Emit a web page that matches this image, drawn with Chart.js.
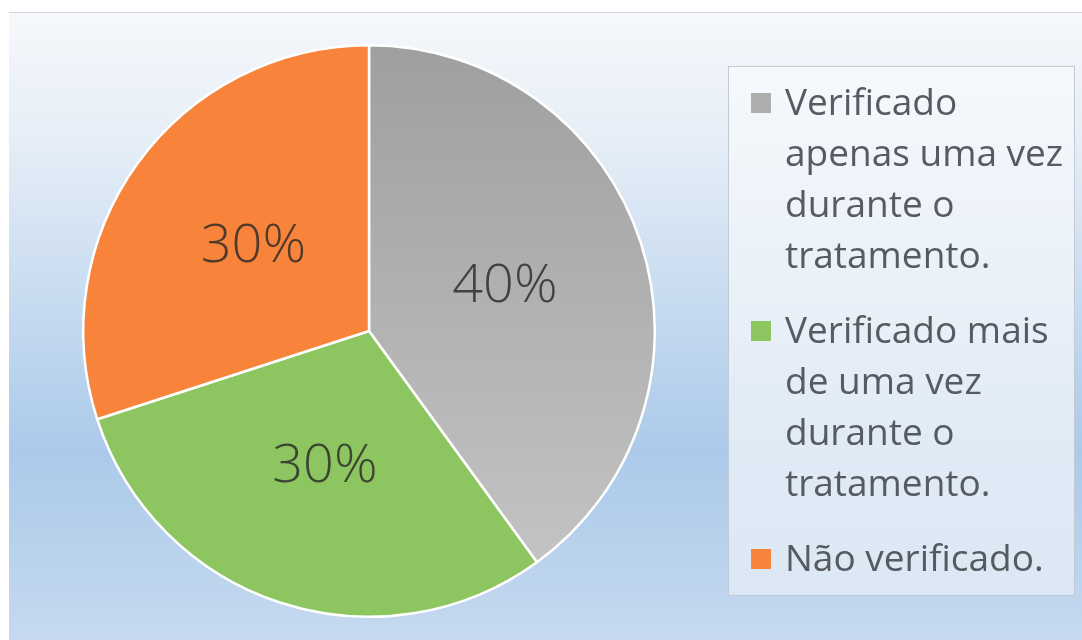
<!DOCTYPE html>
<html>
<head>
<meta charset="utf-8">
<script src="https://cdn.jsdelivr.net/npm/chart.js@4.4.1/dist/chart.umd.min.js"></script>
<style>
html,body{margin:0;padding:0;background:#fff;overflow:hidden;}
canvas{display:block;}
</style>
</head>
<body>
<canvas id="c" width="1082" height="640"></canvas>
<script>
const categories = [
  "Verificado apenas uma vez durante o tratamento.",
  "Verificado mais de uma vez durante o tratamento.",
  "Não verificado."
];
const shares = [40, 30, 30];
const sliceColors = ["#adadad", "#8dc660", "#f7843a"];

const LABEL_FONT = "300 54px 'Open Sans', Lato, sans-serif";
const LEGEND_FONT = "37px 'Open Sans', Lato, sans-serif";

const bgPlugin = {
  id: "bg",
  beforeDraw(chart) {
    const ctx = chart.ctx;
    ctx.save();
    ctx.fillStyle = "#ffffff";
    ctx.fillRect(0, 0, chart.width, chart.height);
    const g = ctx.createLinearGradient(0, 12, 0, 640);
    g.addColorStop(0, "#f6f8fb");
    g.addColorStop(0.2, "#e6eef7");
    g.addColorStop(0.7, "#abcaea");
    g.addColorStop(1, "#c6d9ef");
    ctx.fillStyle = g;
    ctx.fillRect(9, 12, chart.width - 9, chart.height - 12);
    ctx.strokeStyle = "#d2d6dc";
    ctx.lineWidth = 1;
    ctx.beginPath();
    ctx.moveTo(9, 12.5); ctx.lineTo(chart.width, 12.5);
    ctx.stroke();
    ctx.restore();
  }
};

function wrap(ctx, text, maxW) {
  const words = text.split(" ");
  const lines = [];
  let cur = "";
  for (const w of words) {
    const t = cur ? cur + " " + w : w;
    if (ctx.measureText(t).width > maxW && cur) { lines.push(cur); cur = w; }
    else cur = t;
  }
  if (cur) lines.push(cur);
  return lines;
}

const overlayPlugin = {
  id: "overlay",
  afterDraw(chart) {
    const ctx = chart.ctx;
    const meta = chart.getDatasetMeta(0);
    const ds = chart.data.datasets[0];
    ctx.save();
    ctx.font = LABEL_FONT;
    ctx.fillStyle = "rgba(40,40,40,0.82)";
    ctx.textAlign = "center";
    ctx.textBaseline = "middle";
    const total = ds.data.reduce((a, b) => a + b, 0);
    meta.data.forEach((arc, i) => {
      const p = arc.tooltipPosition();
      ctx.fillText(Math.round(ds.data[i] / total * 100) + "%", p.x, p.y);
    });
    const bx = 728.5, by = 66.5, bw = 346, bh = 529;
    const lg = ctx.createLinearGradient(0, by, 0, by + bh);
    lg.addColorStop(0, "rgba(246,249,252,0.92)");
    lg.addColorStop(1, "rgba(222,233,245,0.92)");
    ctx.fillStyle = lg;
    ctx.fillRect(bx, by, bw, bh);
    ctx.strokeStyle = "#c3cad4";
    ctx.lineWidth = 1;
    ctx.strokeRect(bx, by, bw, bh);
    ctx.font = LEGEND_FONT;
    ctx.textAlign = "left";
    ctx.textBaseline = "alphabetic";
    const lineH = 51, gap = 24;
    let y = 115;
    chart.data.labels.forEach((lab, i) => {
      const lines = wrap(ctx, lab, 285);
      ctx.fillStyle = sliceColors[i];
      ctx.fillRect(751, y - 22, 20, 20);
      ctx.fillStyle = "#565b62";
      lines.forEach((ln, k) => ctx.fillText(ln, 785, y + k * lineH));
      y += lines.length * lineH + gap;
    });
    ctx.restore();
  }
};

const ctx = document.getElementById("c").getContext("2d");
const grayGrad = ctx.createLinearGradient(0, 45, 0, 560);
grayGrad.addColorStop(0, "#9f9f9f");
grayGrad.addColorStop(1, "#c4c3c4");
const fills = [grayGrad, sliceColors[1], sliceColors[2]];

new Chart(ctx, {
  type: "pie",
  data: {
    labels: categories,
    datasets: [{
      data: shares,
      backgroundColor: fills,
      borderColor: "#ffffff",
      borderWidth: 2.5
    }]
  },
  options: {
    responsive: false,
    devicePixelRatio: 1,
    animation: false,
    layout: { padding: { left: 82, right: 426, top: 44, bottom: 22 } },
    plugins: { legend: { display: false }, tooltip: { enabled: false } }
  },
  plugins: [bgPlugin, overlayPlugin]
});
</script>
</body>
</html>
